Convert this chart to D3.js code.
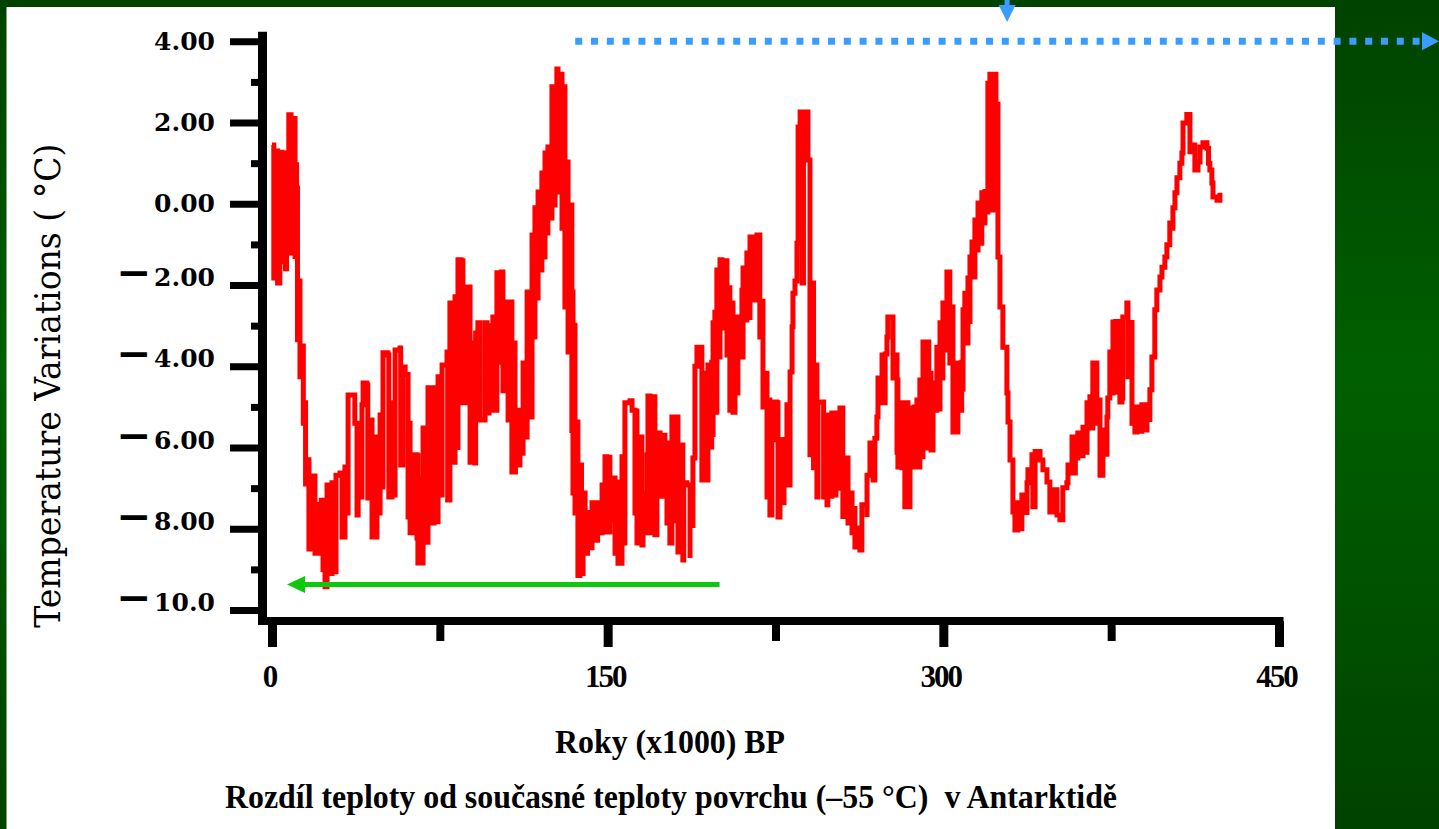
<!DOCTYPE html>
<html>
<head>
<meta charset="utf-8">
<script src="https://cdn.jsdelivr.net/npm/d3@7/dist/d3.min.js"></script>
<style>
  html, body { margin: 0; padding: 0; background: #004a00; }
  svg { display: block; }
</style>
</head>
<body>
<script>
// ---------------- DATA ----------------
// Vostok temperature difference [thousand years BP, °C]
const stage1 = [[0,1.45],[0.8,-1.83],[1.5,1.3],[2.5,-1.95],[3.5,1.27],[4.5,-1.43],[5.5,1.25],[6.0,-1.6],[6.5,0.6],[7.5,2.19],[8.5,-1.21],[9.5,2.1],[10.3,-1.3],[10.5,0.96],[11.0,0.39],[11.4,-3.35],[12.0,-1.9],[12.5,-4.26],[13.5,-3.5],[14.0,-5.4],[14.7,-4.9],[15.0,-6.9],[16.0,-6.3],[16.5,-8.5],[17.5,-8.3],[18.5,-6.7],[19.2,-8.6],[20.0,-7.4],[21.4,-8.6],[22.0,-7.3],[22.8,-9.01],[23.7,-9.43],[24.6,-6.92],[25.5,-9.1],[26.8,-6.87],[28.1,-9.06],[28.6,-6.68],[30.4,-6.63],[31.3,-8.2],[32.6,-6.48],[33.5,-7.61],[34.0,-4.71],[36.2,-4.71],[37.0,-5.4],[38.0,-7.66],[38.5,-5.81],[39.3,-7.22],[40.2,-4.95],[40.7,-4.41],[42.4,-4.46],[42.8,-7.24],[43.8,-5.32],[44.7,-8.2],[45.1,-6.01],[46.0,-8.2],[46.9,-5.74],[47.4,-7.61],[48.3,-5.2],[49.1,-6.97],[49.6,-3.67],[51.8,-3.72],[52.2,-7.22],[53.6,-4.9],[54.1,-7.17],[55.0,-3.6],[57.2,-3.55],[57.5,-6.43],[58.5,-4.02],[59.5,-4.2],[60.8,-7.71],[61.2,-5.4],[61.7,-8.1],[62.6,-6.18],[64.8,-8.23],[65.0,-6.2],[65.2,-8.84],[66.1,-6.75],[66.8,-8.84],[67.5,-5.52],[68.4,-8.33],[69.7,-4.53],[70.6,-7.86],[72.4,-4.53],[73.0,-7.83],[74.2,-4.26],[75.1,-7.17],[76.0,-3.97],[78.2,-3.65],[78.5,-7.29],[79.5,-2.44],[80.4,-6.36],[81.8,-2.29],[82.5,-6.0],[83.1,-1.38],[84.5,-1.4]];
const stage2 = [[85.3,-4.9],[87.1,-2.05],[88.5,-6.36],[88.8,-3.43],[90.7,-6.38],[91.0,-3.18],[92.0,-2.93],[92.9,-5.32],[95.2,-2.93],[96.1,-5.15],[97.0,-3.0],[98.7,-2.79],[98.9,-5.08],[100.5,-1.7],[101.0,-3.9],[102.5,-1.68],[103.2,-4.6],[104.1,-2.42],[105.5,-5.32],[106.5,-2.42],[107.2,-6.6],[107.7,-3.43],[108.6,-6.6],[108.8,-5.08],[109.9,-6.43],[110.8,-5.08],[111.7,-6.14],[112.2,-3.92],[113.1,-5.74],[114.0,-2.17],[115.3,-5.25],[116.2,-0.77],[116.6,-3.28],[117.5,-0.1],[118.4,-2.32],[118.9,0.29],[119.8,-1.63],[120.6,0.76],[121.1,-1.31],[122.0,1.25],[122.9,-0.72],[123.3,1.4],[124.2,-0.35],[125.1,2.88],[125.6,-0.03],[126.5,2.88],[127.3,3.32],[127.8,0.29],[129.6,3.25],[129.6,-0.6],[130.0,2.88],[130.9,-2.54],[131.8,1.03],[132.3,-3.65],[133.1,-0.03],[134.0,-5.64],[134.0,-2.17],[134.5,-7.12],[135.4,-2.93],[135.4,-7.61],[136.3,-5.37],[136.7,-9.15],[137.6,-6.43],[138.3,-9.1],[139.0,-7.12],[139.9,-8.6],[141.0,-7.6],[142.1,-8.47],[143.0,-7.36],[144.3,-8.28],[145.5,-7.36],[146.6,-8.1],[147.5,-6.92],[148.8,-6.23],[149.7,-8.08],[151.0,-6.18],[151.0,-7.78],[152.4,-6.75],[153.3,-8.6],[154.2,-6.85],[154.6,-8.85],[156.4,-6.23],[156.8,-8.35],[157.7,-4.9],[160.0,-4.85],[160.9,-5.08],[162.2,-7.61],[162.5,-5.1],[163.1,-8.35],[164.4,-5.74],[165.3,-8.4],[165.8,-7.12],[166.5,-8.1],[167.6,-6.18],[168.0,-4.73],[168.9,-8.1],[169.8,-4.75],[171.1,-8.15]];
const stage3 = [[172.0,-5.64],[173.4,-7.2],[174.5,-5.7],[175.6,-5.89],[176.5,-7.86],[176.9,-6.55],[177.8,-8.35],[178.7,-5.25],[179.5,-7.8],[181.0,-5.25],[181.4,-8.57],[182.3,-5.94],[183.6,-8.77],[184.0,-6.87],[185.4,-6.92],[186.8,-8.72],[186.8,-6.92],[188.1,-7.98],[188.1,-6.26],[189.0,-4.0],[189.9,-3.53],[192.1,-3.53],[192.1,-6.8],[193.5,-4.17],[194.5,-6.8],[194.8,-3.97],[195.7,-5.99],[196.5,-3.9],[197.1,-5.74],[197.1,-2.93],[197.9,-2.61],[197.9,-5.13],[198.8,-1.63],[199.3,-3.77],[200.2,-1.38],[201.1,-3.06],[202.5,-1.4],[203.3,-3.72],[203.8,-2.07],[204.6,-5.08],[205.5,-2.44],[206.0,-5.13],[206.9,-3.6],[207.8,-4.66],[208.2,-2.79],[210.0,-2.07],[210.0,-3.77],[210.5,-1.58],[211.3,-2.86],[212.2,-1.21],[213.0,-2.8],[213.6,-0.82],[214.9,-2.37],[216.7,-0.77],[218.0,-1.8],[218.0,-3.28],[219.0,-2.4],[219.4,-5.0],[220.3,-4.17],[221.2,-7.22],[221.6,-4.83],[222.5,-7.66],[223.4,-5.81],[223.9,-4.88],[225.5,-4.9],[226.1,-7.71],[227.0,-5.81],[227.9,-7.36],[228.8,-5.8],[230.1,-4.95],[230.6,-6.92],[231.5,-4.14],[232.4,-3.03],[232.8,-2.2],[233.7,-1.9],[234.6,-0.97],[235.1,1.89],[236.0,2.26],[236.9,-1.95],[237.5,2.26],[239.5,1.08],[240.4,-6.18],[241.3,-1.95],[242.0,-6.5],[242.6,-3.97],[243.5,-7.22],[244.0,-4.88],[246.5,-7.22],[247.1,-6.55],[248.0,-7.41],[248.4,-5.2],[249.5,-7.2],[250.2,-5.15],[250.7,-7.17],[252.0,-5.15],[252.9,-7.0],[253.8,-5.03],[255.1,-7.7]];
const stage4 = [[256.9,-6.26],[257.4,-7.86],[258.3,-7.12],[259.2,-8.1],[260.0,-7.5],[260.5,-8.45],[261.9,-7.98],[262.7,-8.52],[263.6,-7.41],[265.5,-7.41],[265.9,-7.71],[265.9,-6.68],[267.2,-5.89],[268.6,-6.8],[269.4,-5.77],[270.3,-5.25],[270.8,-4.29],[272.6,-3.72],[273.0,-4.9],[274.0,-3.7],[274.8,-3.28],[275.2,-2.79],[277.0,-2.79],[277.5,-4.29],[278.4,-3.72],[279.3,-6.18],[279.3,-4.34],[279.7,-6.48],[280.6,-5.08],[281.5,-6.5],[281.9,-4.9],[282.8,-7.46],[283.5,-4.9],[284.2,-7.46],[285.1,-5.77],[286.0,-5.03],[287.0,-5.0],[287.3,-6.48],[288.2,-4.83],[288.8,-6.48],[289.5,-4.34],[290.4,-6.23],[290.9,-3.4],[291.8,-6.01],[292.5,-3.4],[293.5,-5.7],[294.0,-4.17],[294.5,-6.06],[295.4,-4.41],[296.2,-5.08],[297.1,-3.53],[297.6,-5.05],[298.5,-2.93],[299.4,-4.29],[299.8,-2.44],[300.7,-3.6],[301.6,-1.68],[302.9,-1.68],[302.9,-3.92],[303.8,-2.54],[304.3,-5.62],[306.5,-5.62],[306.5,-3.92],[307.4,-5.08],[308.2,-3.9],[308.8,-4.63],[308.8,-2.61],[309.6,-2.2],[310.5,-3.43],[311.0,-1.83],[311.5,-2.9],[311.9,-1.31],[312.8,-0.94],[313.2,-1.8],[314.1,-0.4],[315.0,-1.14],[315.5,0.02],[316.4,-0.97],[317.2,0.27],[317.7,-0.47],[318.6,0.3],[319.5,-0.2],[319.9,2.97],[320.8,3.19],[321.7,-0.15],[322.2,3.19],[323.5,1.0],[324.4,2.51],[324.4,-1.31],[325.3,-2.54],[326.6,-3.53],[328.4,-4.66],[328.9,-5.37],[329.8,-6.31],[331.1,-7.59],[332.0,-8.03],[333.3,-7.36],[334.0,-8.0],[335.1,-7.17],[336.5,-7.6],[337.4,-6.87],[337.8,-6.55],[339.6,-6.18]];
const stage5 = [[340.0,-7.46],[341.0,-6.1],[343.2,-6.31],[344.5,-6.55],[346.3,-6.85],[347.6,-7.59],[349.0,-7.04],[350.8,-7.66],[352.1,-7.78],[353.4,-7.5],[353.4,-6.99],[355.2,-6.87],[355.7,-6.43],[357.5,-5.74],[357.9,-6.63],[359.0,-5.74],[359.7,-6.26],[360.1,-5.64],[361.5,-6.2],[362.4,-5.5],[364.2,-6.18],[364.2,-4.9],[365.5,-4.75],[366.4,-5.52],[366.8,-3.92],[368.6,-3.92],[368.6,-5.4],[369.1,-4.83],[370.0,-6.68],[371.3,-6.68],[371.3,-5.57],[373.1,-6.23],[373.1,-5.25],[373.5,-4.78],[374.4,-3.65],[375.3,-4.66],[375.8,-2.91],[377.0,-2.9],[378.0,-4.7],[378.0,-3.35],[378.9,-4.88],[379.8,-3.84],[380.2,-4.85],[380.2,-2.79],[382.0,-2.44],[382.5,-2.44],[382.5,-4.26],[384.3,-2.86],[384.3,-5.4],[385.6,-5.62],[386.5,-5.0],[387.5,-5.6],[388.7,-4.95],[390.1,-5.57],[391.0,-5.1],[392.3,-5.37],[392.3,-4.58],[393.2,-3.77],[394.5,-2.61],[395.4,-2.12],[396.8,-1.8],[397.7,-1.56],[399.0,-1.31],[399.9,-1.01],[401.2,-0.47],[402.0,-0.6],[402.6,-0.1],[403.5,0.27],[404.4,0.64],[405.7,1.0],[406.6,1.25],[407.1,1.99],[408.8,2.2],[410.2,2.2],[410.2,1.28],[411.5,1.45],[412.4,0.83],[413.8,1.03],[414.7,1.4],[416.0,1.5],[417.8,1.37],[418.5,1.0],[419.1,0.83],[420.0,0.51],[420.5,0.17],[422.3,0.09],[423.6,0.27]];

const yMajorTicks = [4, 2, 0, -2, -4, -6, -8, -10];
const yMajorLabels = ["4.00", "2.00", "0.00", "\u22122.00", "\u22124.00", "\u22126.00", "\u22128.00", "\u221210.0"];
const yMinorTicks = [3, 1, -1, -3, -5, -7, -9];
const xMajorTicks = [0, 150, 300, 450];
const xMinorTicks = [75, 225, 375];

// annotations (data units)
const greenArrow = { from: 200, to: 6.7, level: -9.37 };
const blueArrow = { from: 135.5, level: 4.0 };
const downArrowYear = 328.5;

const yTitle = "Temperature Variations ( \u00b0C)";
const xTitle = "Roky (x1000) BP";
const subTitle = "Rozd\u00edl teploty od sou\u010dasn\u00e9 teploty povrchu (\u201355 \u00b0C)\u00a0\u00a0v Antarktid\u011b";

// ---------------- DRAW ----------------
const W = 1439, H = 829;
const svg = d3.select("body").append("svg").attr("width", W).attr("height", H);

const defs = svg.append("defs");
const grad = defs.append("linearGradient").attr("id", "bg").attr("x1", 0).attr("y1", 0).attr("x2", 0).attr("y2", 1);
grad.append("stop").attr("offset", "0%").attr("stop-color", "#004200");
grad.append("stop").attr("offset", "45%").attr("stop-color", "#006000");
grad.append("stop").attr("offset", "100%").attr("stop-color", "#004200");

svg.append("rect").attr("width", W).attr("height", H).attr("fill", "url(#bg)");
svg.append("rect").attr("x", 6.5).attr("y", 7).attr("width", 1328.5).attr("height", H - 7).attr("fill", "#ffffff");

const x = d3.scaleLinear().domain([0, 450]).range([272, 1279]);
const y = d3.scaleLinear().domain([-10, 4]).range([610, 41.3]);

const axisX = 262.5;   // y-axis line position
const axisY = 621;     // x-axis line position

// data line
const series = stage1.concat(stage2, stage3, stage4, stage5);
const line = d3.line().x(d => x(d[0])).y(d => y(d[1])).curve(d3.curveStepAfter);
svg.append("path").datum(series)
  .attr("d", line)
  .attr("fill", "none")
  .attr("stroke", "#ff0000")
  .attr("stroke-width", 5)
  .attr("stroke-linejoin", "miter");

// Y axis
const gyMaj = svg.append("g").attr("transform", `translate(${axisX},0)`)
  .call(d3.axisLeft(y).tickValues(yMajorTicks).tickSize(32.5).tickPadding(15)
    .tickFormat((d, i) => yMajorLabels[i]));
const gyMin = svg.append("g").attr("transform", `translate(${axisX},0)`)
  .call(d3.axisLeft(y).tickValues(yMinorTicks).tickSize(11.5).tickFormat(""));
[gyMaj, gyMin].forEach(g => {
  g.select(".domain").remove();
  g.selectAll(".tick line").attr("stroke", "#000").attr("stroke-width", 7);
});
gyMaj.attr("font-family", "'DejaVu Serif', serif").attr("font-size", 25).attr("font-weight", "bold");
gyMaj.selectAll(".tick text").attr("fill", "#000").each(function () {
  const t = d3.select(this);
  const s = t.text();
  if (s.startsWith("\u2212")) {
    t.text(null);
    t.append("tspan").attr("font-family", "'DejaVu Sans', sans-serif")
      .attr("font-size", 42).attr("font-weight", "bold").attr("dy", "0.04em").text("\u2212");
    t.append("tspan").attr("dx", 3).attr("dy", "-0.04em").text(s.slice(1));
  }
});

// X axis
const gxMaj = svg.append("g").attr("transform", `translate(0,${axisY})`)
  .call(d3.axisBottom(x).tickValues(xMajorTicks).tickSize(26).tickFormat(d3.format("d")));
const gxMin = svg.append("g").attr("transform", `translate(0,${axisY})`)
  .call(d3.axisBottom(x).tickValues(xMinorTicks).tickSize(20).tickFormat(""));
[gxMaj, gxMin].forEach(g => g.select(".domain").remove());
gxMaj.selectAll(".tick line").attr("stroke", "#000").attr("stroke-width", 9);
gxMin.selectAll(".tick line").attr("stroke", "#000").attr("stroke-width", 8);
gxMaj.attr("font-family", "'Liberation Serif', serif").attr("font-size", 31).attr("font-weight", "bold");
gxMaj.selectAll(".tick text").attr("fill", "#000").attr("y", 66).attr("dy", 0).attr("dx", -3)
  .attr("letter-spacing", -2);

// axis lines
svg.append("line").attr("x1", axisX).attr("x2", axisX)
  .attr("y1", y(4) - 9.5).attr("y2", axisY + 4)
  .attr("stroke", "#000").attr("stroke-width", 9);
svg.append("line").attr("x1", axisX - 4.5).attr("x2", x(450) + 4.5)
  .attr("y1", axisY).attr("y2", axisY)
  .attr("stroke", "#000").attr("stroke-width", 8);

// green arrow
const gY = y(greenArrow.level);
svg.append("line").attr("x1", x(greenArrow.from)).attr("x2", x(greenArrow.to) + 10)
  .attr("y1", gY).attr("y2", gY).attr("stroke", "#0ec80e").attr("stroke-width", 5);
svg.append("path")
  .attr("d", `M${x(greenArrow.to)},${gY} L${x(greenArrow.to) + 18},${gY - 8.5} L${x(greenArrow.to) + 18},${gY + 8.5} Z`)
  .attr("fill", "#0ec80e");

// blue dotted arrow
const bY = y(blueArrow.level);
svg.append("line").attr("x1", x(blueArrow.from)).attr("x2", W - 18)
  .attr("y1", bY).attr("y2", bY)
  .attr("stroke", "#3b9cff").attr("stroke-width", 7).attr("stroke-dasharray", "7 8.8");
svg.append("path")
  .attr("d", `M${W},${bY} L${W - 17},${bY - 9} L${W - 17},${bY + 9} Z`)
  .attr("fill", "#3b9cff");
// down arrow
const dX = x(downArrowYear);
svg.append("rect").attr("x", dX - 2.5).attr("y", 0).attr("width", 5).attr("height", 7).attr("fill", "#3b9cff");
svg.append("path")
  .attr("d", `M${dX - 8.5},5 L${dX + 8.5},5 L${dX},22 Z`)
  .attr("fill", "#3b9cff");

// titles
svg.append("text")
  .attr("transform", `translate(60,${(y(4) + y(-10)) / 2 + 60}) rotate(-90)`)
  .attr("text-anchor", "middle")
  .attr("font-family", "'DejaVu Serif', serif")
  .attr("font-size", 36)
  .attr("textLength", 484).attr("lengthAdjust", "spacingAndGlyphs")
  .attr("fill", "#000")
  .text(yTitle);

svg.append("text")
  .attr("x", 670).attr("y", 753)
  .attr("text-anchor", "middle")
  .attr("font-family", "'Liberation Serif', serif")
  .attr("font-weight", "bold")
  .attr("font-size", 33)
  .attr("textLength", 230).attr("lengthAdjust", "spacingAndGlyphs")
  .attr("fill", "#000")
  .text(xTitle);

svg.append("text")
  .attr("x", 671).attr("y", 808)
  .attr("text-anchor", "middle")
  .attr("font-family", "'Liberation Serif', serif")
  .attr("font-weight", "bold")
  .attr("font-size", 33)
  .attr("textLength", 892).attr("lengthAdjust", "spacingAndGlyphs")
  .attr("fill", "#000")
  .text(subTitle);
</script>
</body>
</html>
